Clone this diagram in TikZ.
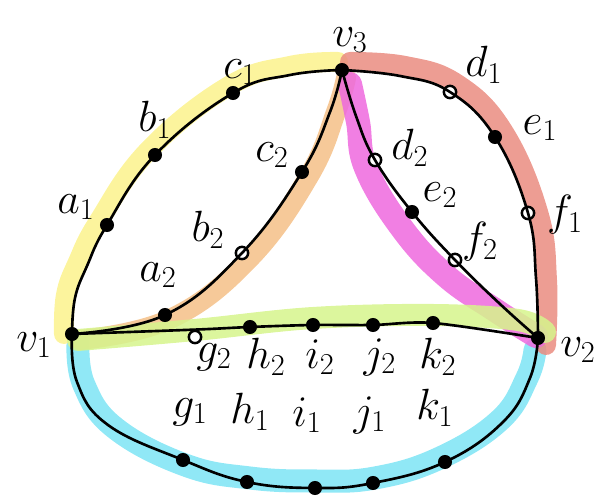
\documentclass[tikz,border=0pt]{standalone}
\definecolor{hlyellow}{RGB}{252,242,140}
\definecolor{hlorange}{RGB}{244,192,135}
\definecolor{hlmagenta}{RGB}{238,105,222}
\definecolor{hlsalmon}{RGB}{234,140,128}
\definecolor{hlgreen}{RGB}{214,244,140}
\definecolor{hlcyan}{RGB}{125,228,244}
\usepackage{tikz}
\usetikzlibrary{positioning}

\tikzset{
  dot/.style={circle, fill=black, inner sep=0pt, minimum size=8pt},
  odot/.style={circle, draw=black, line width=1.4pt, fill=white, inner sep=0pt, minimum size=7pt},
  lbl/.style={font=\fontsize{24}{28}\selectfont},
  hl/.style={line width=0.4cm, line cap=round, line join=round, opacity=0.85},
  edge/.style={line width=1.5pt}
}

\begin{document}
\begin{tikzpicture}[x=0.02cm, y=-0.02cm]
  \useasboundingbox (0,0) rectangle (610,502);

  % highlights
  \draw[hl, hlcyan, line width=0.46cm] plot[smooth, tension=0.7] coordinates {(78,345) (84,385) (115,428) (185,465) (250,478) (315,481) (375,478) (440,458) (500,420) (527,378) (535,350)};
  \draw[hl, hlyellow] plot[smooth, tension=0.7] coordinates {(64,334) (66,295) (78,262) (99,221) (149,150) (229,86) (290,66) (338,62)};
  \draw[hl, hlorange] plot[smooth, tension=0.7] coordinates {(80,340) (170,319) (249,259) (309,176) (336,112) (346,78)};
  \draw[hl, hlsalmon] plot[smooth, tension=0.7] coordinates {(350,62) (405,66) (457,84) (503,131) (538,212) (547,280) (546,345)};
  \draw[hl, hlmagenta, line width=0.48cm] plot[smooth, tension=0.7] coordinates {(350,84) (358,122) (366,168) (401,227) (445,275) (495,310) (536,336)};
  \draw[hl, hlgreen, line width=0.44cm] plot[smooth, tension=0.6] coordinates {(78,340) (195,330) (313,318) (433,315) (518,320) (545,332)};

  % vertices and points
  \node[dot] (v1) at (72,334) {};
  \node[dot] (v2) at (538,338) {};
  \node[dot] (v3) at (342,70) {};
  \node[dot] (a1) at (107,225) {};
  \node[dot] (b1) at (155,155) {};
  \node[dot] (c1) at (233,93) {};
  \node[dot] (a2) at (165,315) {};
  \node[odot] (b2) at (242,253) {};
  \node[dot] (c2) at (302,172) {};
  \node[odot] (d1) at (450,92) {};
  \node[dot] (e1) at (495,137) {};
  \node[odot] (f1) at (528,213) {};
  \node[odot] (d2) at (375,160) {};
  \node[dot] (e2) at (412,212) {};
  \node[odot] (f2) at (455,260) {};
  \node[odot] (g2) at (195,337) {};
  \node[dot] (h2) at (250,327) {};
  \node[dot] (i2) at (313,325) {};
  \node[dot] (j2) at (373,325) {};
  \node[dot] (k2) at (433,323) {};
  \node[dot] (g1) at (183,460) {};
  \node[dot] (h1) at (247,482) {};
  \node[dot] (i1) at (315,488) {};
  \node[dot] (j1) at (373,483) {};
  \node[dot] (k1) at (445,462) {};

  % edges
  \draw[edge] plot[smooth, tension=0.7] coordinates {(v1.center) (75,298) (87,266) (a1.center) (b1.center) (c1.center) (290,75) (v3.center)};
  \draw[edge] plot[smooth, tension=0.7] coordinates {(v1.center) (a2.center) (b2.center) (c2.center) (330,112) (v3.center)};
  \draw[edge] plot[smooth, tension=0.7] coordinates {(v3.center) (400,76) (d1.center) (e1.center) (f1.center) (536,278) (v2.center)};
  \draw[edge] plot[smooth, tension=0.7] coordinates {(v3.center) (356,116) (d2.center) (e2.center) (f2.center) (500,304) (v2.center)};
  \draw[edge] plot[smooth, tension=0.5] coordinates {(v1.center) (g2.north) (h2.center) (i2.center) (j2.center) (k2.center) (v2.center)};
  \draw[edge] plot[smooth, tension=0.7] coordinates {(v1.center) (77,382) (108,425) (g1.center) (h1.center) (i1.center) (j1.center) (k1.center) (503,422) (530,378) (v2.center)};

  % labels
  \node[lbl] at (34,345) {$v_1$};
  \node[lbl] at (578,350) {$v_2$};
  \node[lbl] at (350,40) {$v_3$};
  \node[lbl] at (76,207) {$a_1$};
  \node[lbl] at (155,120) {$b_1$};
  \node[lbl] at (240,72) {$c_1$};
  \node[lbl] at (158,275) {$a_2$};
  \node[lbl] at (208,230) {$b_2$};
  \node[lbl] at (272,155) {$c_2$};
  \node[lbl] at (484,65) {$d_1$};
  \node[lbl] at (540,128) {$e_1$};
  \node[lbl] at (565,215) {$f_1$};
  \node[lbl] at (410,148) {$d_2$};
  \node[lbl] at (440,195) {$e_2$};
  \node[lbl] at (480,242) {$f_2$};
  \node[lbl] at (214,357) {$g_2$};
  \node[lbl] at (266,357) {$h_2$};
  \node[lbl] at (320,357) {$i_2$};
  \node[lbl] at (380,357) {$j_2$};
  \node[lbl] at (438,357) {$k_2$};
  \node[lbl] at (190,412) {$g_1$};
  \node[lbl] at (250,412) {$h_1$};
  \node[lbl] at (307,415) {$i_1$};
  \node[lbl] at (370,415) {$j_1$};
  \node[lbl] at (435,408) {$k_1$};
\end{tikzpicture}
\end{document}
